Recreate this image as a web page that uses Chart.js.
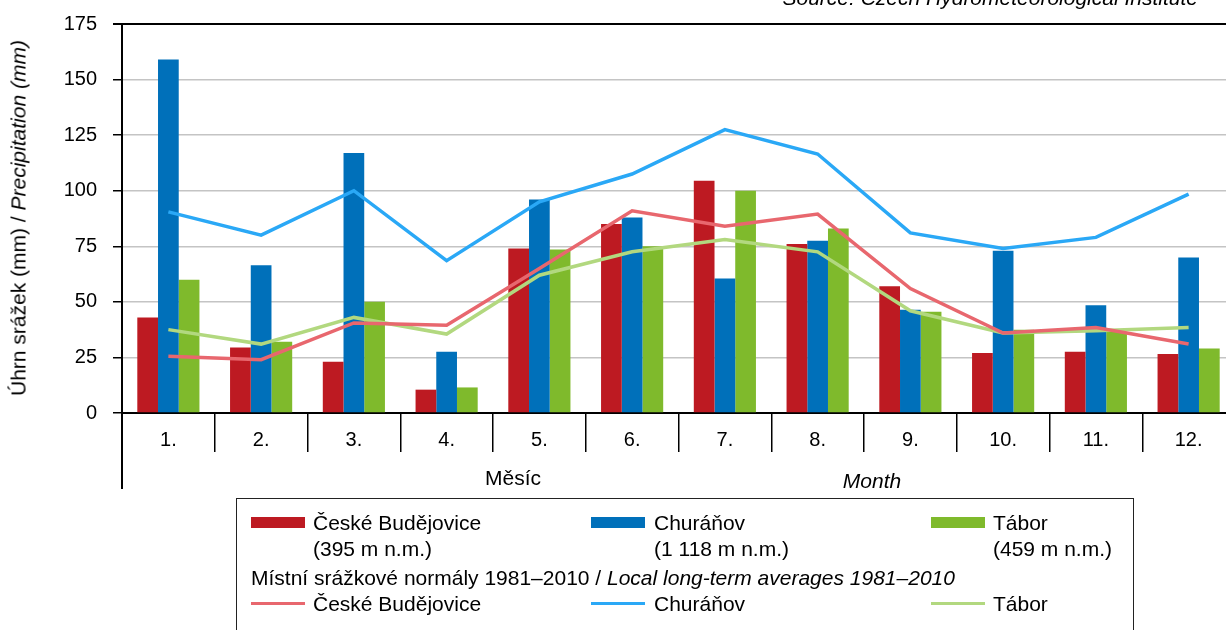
<!DOCTYPE html>
<html>
<head>
<meta charset="utf-8">
<script src="https://cdn.jsdelivr.net/npm/chart.js@4"></script>
<style>
	html, body { margin: 0; padding: 0; background: #fff; overflow: hidden; }
	body { width: 1226px; height: 630px; position: relative; font-family: "Liberation Sans", Arial, sans-serif; color: #000; }
	#wrap { position: absolute; left: 0; top: 0; width: 1240px; height: 630px; }
	.txt { position: absolute; font-size: 21px; line-height: 1; white-space: nowrap; }
	.it { font-style: italic; }
	#ytitle { left: 18px; top: 218px; transform: translate(-50%, -50%) rotate(-90deg); }
	#legend { position: absolute; left: 236px; top: 498px; width: 896px; height: 160px; border: 1px solid #222; }
	.sw { position: absolute; width: 54px; }
</style>
</head>
<body>
<div id="wrap"><canvas id="chart" width="1240" height="630"></canvas></div>

<div class="txt it" style="right: 28px; top: -13px;">Source: Czech Hydrometeorological Institute</div>
<div class="txt" id="ytitle">Úhrn srážek (mm) / <span class="it">Precipitation (mm)</span></div>
<div class="txt" style="left: 513px; top: 477px; transform: translate(-50%, -50%);">Měsíc</div>
<div class="txt it" style="left: 872px; top: 480px; transform: translate(-50%, -50%);">Month</div>

<div id="legend"></div>
<div class="sw" style="left: 251px; top: 517px; height: 11px; background: #BD1A22;"></div>
<div class="txt" style="left: 313px; top: 512px;">České Budějovice</div>
<div class="txt" style="left: 313px; top: 538px;">(395 m n.m.)</div>
<div class="sw" style="left: 591px; top: 517px; height: 11px; background: #0070BA;"></div>
<div class="txt" style="left: 654px; top: 512px;">Churáňov</div>
<div class="txt" style="left: 654px; top: 538px;">(1 118 m n.m.)</div>
<div class="sw" style="left: 931px; top: 517px; height: 11px; background: #7FBA2C;"></div>
<div class="txt" style="left: 993px; top: 512px;">Tábor</div>
<div class="txt" style="left: 993px; top: 538px;">(459 m n.m.)</div>
<div class="txt" style="left: 251px; top: 567px;">Místní srážkové normály 1981–2010 / <span class="it">Local long-term averages 1981–2010</span></div>
<div class="sw" style="left: 251px; top: 602px; height: 3px; background: #E8676E;"></div>
<div class="txt" style="left: 313px; top: 593px;">České Budějovice</div>
<div class="sw" style="left: 591px; top: 602px; height: 3px; background: #2AA8F6;"></div>
<div class="txt" style="left: 654px; top: 593px;">Churáňov</div>
<div class="sw" style="left: 931px; top: 602px; height: 3px; background: #B2D87F;"></div>
<div class="txt" style="left: 993px; top: 593px;">Tábor</div>

<script>
const months = ['1.', '2.', '3.', '4.', '5.', '6.', '7.', '8.', '9.', '10.', '11.', '12.']
const yTicks = [0, 25, 50, 75, 100, 125, 150, 175]

// measured monthly precipitation (mm)
const budejovice = [43, 29.5, 23, 10.5, 74, 85, 104.5, 76, 57, 27, 27.5, 26.5]
const churanov = [159, 66.5, 117, 27.5, 96, 88, 60.5, 77.5, 46.5, 73, 48.5, 70]
const tabor = [60, 32, 50, 11.5, 73.5, 75, 100, 83, 45.5, 37.5, 36.5, 29]

// long-term averages 1981-2010
const budejoviceNorm = [25.5, 24, 40.5, 39.5, 65, 91, 84, 89.5, 56, 36, 38.5, 31]
const churanovNorm = [90.5, 80, 100, 68.5, 95, 107.5, 127.5, 116.5, 81, 74, 79, 98.5]
const taborNorm = [37.5, 31, 43, 35.5, 62, 72.5, 78, 72.5, 46, 36, 37, 38.5]

const fontFamily = '"Liberation Sans", Arial, sans-serif'

const bottomLine = {
	id: 'bottomLine',
	afterDraw(chart) {
		const c = chart.ctx
		const a = chart.chartArea
		c.save()
		c.strokeStyle = '#000'
		c.lineWidth = 2
		c.beginPath()
		c.moveTo(a.left, a.bottom)
		c.lineTo(a.left, 489)
		c.stroke()
		c.restore()
	}
}

function barSet(label, data, color) {
	return {
		type: 'bar',
		label: label,
		data: data,
		backgroundColor: color,
		borderWidth: 0,
		categoryPercentage: 0.67,
		barPercentage: 1,
		order: 2
	}
}

function lineSet(label, data, color) {
	return {
		type: 'line',
		label: label,
		data: data,
		borderColor: color,
		backgroundColor: color,
		borderWidth: 3.5,
		pointRadius: 0,
		tension: 0,
		fill: false,
		order: 1
	}
}

const chart = new Chart(document.getElementById('chart').getContext('2d'), {
	data: {
		labels: months,
		datasets: [
			barSet('České Budějovice', budejovice, '#BD1A22'),
			barSet('Churáňov', churanov, '#0070BA'),
			barSet('Tábor', tabor, '#7FBA2C'),
			lineSet('České Budějovice norm', budejoviceNorm, '#E8676E'),
			lineSet('Churáňov norm', churanovNorm, '#2AA8F6'),
			lineSet('Tábor norm', taborNorm, '#B2D87F')
		]
	},
	options: {
		responsive: false,
		animation: false,
		devicePixelRatio: 1,
		layout: { padding: { top: 24, right: 5, left: 0, bottom: 0 } },
		plugins: {
			legend: { display: false },
			tooltip: { enabled: false }
		},
		scales: {
			x: {
				offset: true,
				afterFit: scale => { scale.height = 217 },
				border: { display: true, color: '#000', width: 2 },
				grid: {
					offset: true,
					drawOnChartArea: false,
					drawTicks: true,
					tickLength: 39,
					tickColor: '#000',
					lineWidth: 1.5
				},
				ticks: {
					color: '#000',
					padding: -24,
					font: { family: fontFamily, size: 20 }
				}
			},
			y: {
				min: 0,
				max: 175,
				afterFit: scale => {
					scale.width = 122
					// labels sit in the margin already, don't let them push the plot down
					scale.paddingTop = 0
					scale.paddingBottom = 0
				},
				afterBuildTicks: scale => { scale.ticks = yTicks.map(v => ({ value: v })) },
				border: { display: true, color: '#000', width: 2 },
				grid: {
					color: c => c.tick && c.tick.value === 175 ? '#000' : '#c4c4c4',
					lineWidth: c => c.tick && c.tick.value === 175 ? 2 : 1.5,
					tickLength: 9,
					tickColor: '#000'
				},
				ticks: {
					color: '#000',
					padding: 16,
					font: { family: fontFamily, size: 20 }
				}
			}
		}
	},
	plugins: [bottomLine]
});
</script>
</body>
</html>
